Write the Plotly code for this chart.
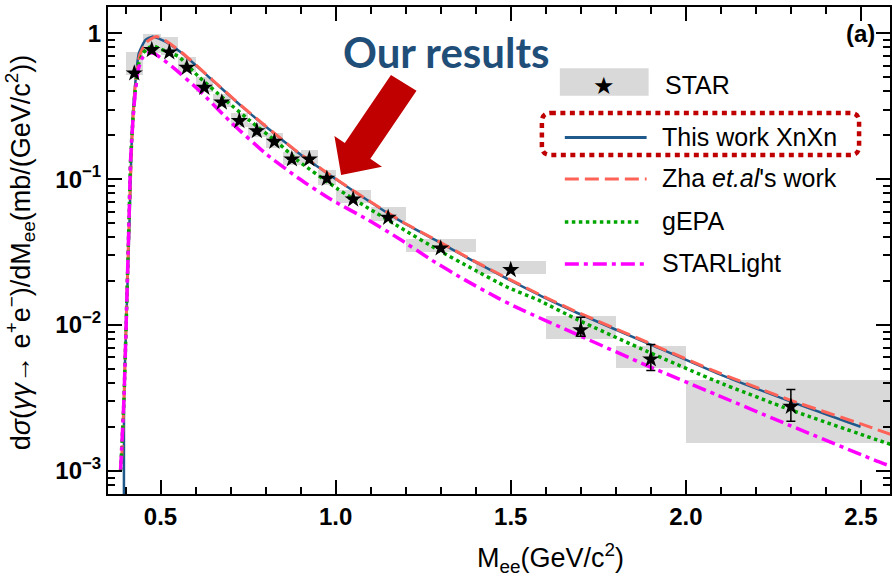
import numpy as np
import plotly.graph_objects as go

# ---------------- STAR data: dσ/dM_ee (mb/(GeV/c^2)) ----------------
star_mass = [0.425, 0.475, 0.525, 0.575, 0.625, 0.675, 0.725, 0.775, 0.825, 0.875,
             0.925, 0.975, 1.05, 1.15, 1.3, 1.5, 1.7, 1.9, 2.3]
star_xsec = [0.532, 0.769, 0.741, 0.581, 0.424, 0.336, 0.251, 0.214, 0.181, 0.137,
             0.137, 0.101, 0.0728, 0.0545, 0.0336, 0.0239, 0.00925, 0.00583, 0.00276]
# statistical error band (lower / upper value)
star_stat_lo = [0.532, 0.769, 0.741, 0.581, 0.424, 0.336, 0.251, 0.214, 0.181, 0.137,
                0.137, 0.101, 0.0728, 0.0545, 0.0336, 0.0239, 0.00839, 0.00489, 0.00219]
star_stat_hi = [0.532, 0.769, 0.741, 0.581, 0.424, 0.336, 0.251, 0.214, 0.181, 0.137,
                0.137, 0.101, 0.0728, 0.0545, 0.0336, 0.0239, 0.0113, 0.00735, 0.00361]
# systematic uncertainty boxes
star_sys_lo = [0.518, 0.729, 0.710, 0.546, 0.398, 0.311, 0.229, 0.195, 0.163, 0.125,
               0.128, 0.0913, 0.0684, 0.0519, 0.0318, 0.0224, 0.00807, 0.00506, 0.00155]
star_sys_hi = [0.748, 0.989, 0.944, 0.691, 0.504, 0.384, 0.283, 0.244, 0.206, 0.154,
               0.158, 0.116, 0.0843, 0.0642, 0.0386, 0.0275, 0.01154, 0.00719, 0.00420]
bin_lo = [0.40, 0.45, 0.50, 0.55, 0.60, 0.65, 0.70, 0.75, 0.80, 0.85,
          0.90, 0.95, 1.0, 1.1, 1.2, 1.4, 1.6, 1.8, 2.0]
bin_hi = [0.45, 0.50, 0.55, 0.60, 0.65, 0.70, 0.75, 0.80, 0.85, 0.90,
          0.95, 1.0, 1.1, 1.2, 1.4, 1.6, 1.8, 2.0, 2.7]

# ---------------- Theory curves ----------------
xnxn_m = [0.3954, 0.3956, 0.403, 0.4117, 0.419, 0.427, 0.438, 0.457, 0.476, 0.481,
          0.514, 0.5615, 0.647, 0.7325, 0.818, 0.894, 0.99, 1.0934, 1.188, 1.288,
          1.388, 1.4875, 1.587, 1.692, 1.891, 2.09, 2.2995, 2.499]
xnxn_y = [0.0002, 0.003, 0.012, 0.054, 0.229, 0.431, 0.729, 0.90, 0.948, 0.945,
          0.876, 0.729, 0.479, 0.314, 0.212, 0.151, 0.104, 0.0712, 0.0512, 0.0379,
          0.0279, 0.0209, 0.0158, 0.01205, 0.0075, 0.00467, 0.00299, 0.00201]

zha_m = [0.389, 0.3954, 0.41, 0.419, 0.427, 0.44, 0.46, 0.4875, 0.514, 0.5615,
         0.647, 0.7325, 0.818, 0.894, 0.99, 1.0934, 1.188, 1.288, 1.388, 1.4875,
         1.587, 1.692, 1.891, 2.09, 2.2995, 2.5, 2.6]
zha_y = [0.0012, 0.003, 0.05, 0.2, 0.42, 0.70, 0.87, 0.95, 0.89, 0.735,
         0.482, 0.316, 0.213, 0.152, 0.1045, 0.0715, 0.0515, 0.0381, 0.0281, 0.0211,
         0.0160, 0.0122, 0.0076, 0.00475, 0.00305, 0.0021, 0.00173]

gepa_m = [0.386, 0.3954, 0.41, 0.4145, 0.424, 0.436, 0.45, 0.465, 0.481, 0.495,
          0.552, 0.609, 0.685, 0.752, 0.837, 0.894, 1.008, 1.0934, 1.188, 1.2925,
          1.388, 1.4875, 1.578, 1.692, 1.891, 2.09, 2.2995, 2.547, 2.6]
gepa_y = [0.001, 0.003, 0.0525, 0.135, 0.32, 0.60, 0.73, 0.795, 0.818, 0.789,
          0.691, 0.504, 0.349, 0.255, 0.176, 0.133, 0.085, 0.0632, 0.0461, 0.0327,
          0.0245, 0.0183, 0.01486, 0.01084, 0.00657, 0.00409, 0.00262, 0.00163, 0.00148]

starlight_m = [0.386, 0.3954, 0.41, 0.4145, 0.424, 0.436, 0.4476, 0.462, 0.481, 0.533,
               0.609, 0.704, 0.799, 0.894, 0.989, 1.084, 1.179, 1.274, 1.369, 1.464,
               1.52, 1.692, 1.891, 2.09, 2.2995, 2.561, 2.6]
starlight_y = [0.00102, 0.00307, 0.0525, 0.1355, 0.314, 0.56, 0.674, 0.729, 0.729, 0.590,
               0.409, 0.2415, 0.1506, 0.1014, 0.0720, 0.0540, 0.0394, 0.0279, 0.0204, 0.0153,
               0.0131, 0.00855, 0.00525, 0.00331, 0.00204, 0.00113, 0.00105]

# ---------------- styles ----------------
BLUE = "#205a8c"
RED = "#ff6257"
GREEN = "#00a600"
MAGENTA = "#ff00ff"
DARKRED = "#c00000"
FONT = "Liberation Sans, Arial, sans-serif"

# plot-area geometry in pixels (used to place legend / decorations)
W, H = 892, 580
ML, MR, MT, MB = 108, 0, 7, 86
PW, PH = W - ML - MR, H - MT - MB


def px(x):
    return (x - ML) / PW


def py(y):
    return (H - MB - y) / PH


fig = go.Figure()

# systematic boxes
fig.add_trace(go.Bar(
    x=[(a + b) / 2 for a, b in zip(bin_lo, bin_hi)],
    width=[b - a for a, b in zip(bin_lo, bin_hi)],
    base=star_sys_lo,
    y=[h - l for l, h in zip(star_sys_lo, star_sys_hi)],
    marker=dict(color="#d9d9d9", line=dict(width=0)),
    showlegend=False, hoverinfo="skip",
))

curves = [
    (xnxn_m, xnxn_y, BLUE, 2.5, "solid"),
    (zha_m, zha_y, RED, 3, "14px,6px"),
    (gepa_m, gepa_y, GREEN, 3.5, "dot"),
    (starlight_m, starlight_y, MAGENTA, 3.5, "14px,5px,4px,5px"),
]
for m, y, c, w, d in curves:
    fig.add_trace(go.Scatter(
        x=m, y=y, mode="lines",
        line=dict(color=c, width=w, dash=d, shape="spline", smoothing=0.5),
        showlegend=False, hoverinfo="skip",
    ))

fig.add_trace(go.Scatter(
    x=star_mass, y=star_xsec, mode="markers",
    marker=dict(symbol="star", size=13, color="black", line=dict(width=0)),
    error_y=dict(type="data", symmetric=False,
                 array=[h - v for h, v in zip(star_stat_hi, star_xsec)],
                 arrayminus=[v - l for l, v in zip(star_stat_lo, star_xsec)],
                 color="black", thickness=1.5, width=4.5),
    showlegend=False, hoverinfo="skip",
))

axis_common = dict(
    showline=True, linecolor="black", linewidth=2, mirror="ticks",
    ticks="inside", ticklen=14, tickwidth=2, tickcolor="black",
    showgrid=False, zeroline=False,
    tickfont=dict(family=FONT, size=24, color="black", weight="bold"),
)

fig.update_layout(
    width=W, height=H, autosize=False,
    margin=dict(l=ML, r=MR, t=MT, b=MB),
    plot_bgcolor="white", paper_bgcolor="white",
    barmode="overlay", bargap=0,
    xaxis=dict(range=[0.35, 2.583], tick0=0.5, dtick=0.5, tickformat=".1f",
               minor=dict(ticks="inside", ticklen=7, tickwidth=1.5, tickcolor="black",
                          tick0=0.5, dtick=0.1),
               **axis_common),
    yaxis=dict(type="log", range=[-3.158, 0.180],
               tickvals=[0.001, 0.01, 0.1, 1],
               ticktext=["10<sup>−3</sup>", "10<sup>−2</sup>", "10<sup>−1</sup>", "1"],
               minor=dict(ticks="inside", ticklen=7, tickwidth=1.5, tickcolor="black",
                          dtick="D1"),
               **axis_common),
)

ann = []
shapes = []

# axis titles
ann.append(dict(xref="paper", yref="paper", x=px(20), y=py(252), textangle=-90,
                text="d<i>σ</i>(<i>γγ</i>→ e<sup>+</sup>e<sup>−</sup>)/dM<sub>ee</sub>(mb/(GeV/c<sup>2</sup>))",
                showarrow=False, xanchor="center", yanchor="middle",
                font=dict(family=FONT, size=27, color="black")))
ann.append(dict(xref="paper", yref="paper", x=px(552), y=py(558),
                text="M<sub>ee</sub>(GeV/c<sup>2</sup>)",
                showarrow=False, xanchor="center", yanchor="middle",
                font=dict(family=FONT, size=27, color="black")))

# panel label
ann.append(dict(xref="paper", yref="paper", x=px(862), y=py(34), text="(a)",
                showarrow=False, xanchor="center", yanchor="middle",
                font=dict(family=FONT, size=24, color="black", weight="bold")))

# highlight text and arrow
ann.append(dict(xref="paper", yref="paper", x=px(447), y=py(52), text="Our results",
                showarrow=False, xanchor="center", yanchor="middle",
                font=dict(family="Lato, Open Sans, sans-serif", size=42,
                          color="#1f4e79", weight="bold")))
arrow_pts = [(391.7, 75), (417.3, 90.7), (371, 158.7), (382.7, 166.7),
             (341.7, 175), (335, 136), (345.4, 143)]
path = "M " + " L ".join(f"{px(a):.5f},{py(b):.5f}" for a, b in arrow_pts) + " Z"
shapes.append(dict(type="path", xref="paper", yref="paper", path=path,
                   fillcolor=DARKRED, line=dict(width=0)))

# legend
shapes.append(dict(type="rect", xref="paper", yref="paper",
                   x0=px(561), x1=px(650), y0=py(95.7), y1=py(68.3),
                   fillcolor="#d9d9d9", line=dict(width=0)))
ann.append(dict(xref="paper", yref="paper", x=px(605), y=py(86), text="★",
                showarrow=False, xanchor="center", yanchor="middle",
                font=dict(family="DejaVu Sans", size=24, color="black")))
ann.append(dict(xref="paper", yref="paper", x=px(664), y=py(85), text="STAR",
                showarrow=False, xanchor="left", yanchor="middle",
                font=dict(family=FONT, size=25, color="black")))

legend_rows = [
    (137.5, BLUE, 3, "solid", 648, "This work XnXn"),
    (179.0, RED, 3, "14px,6px", 648, "Zha <i>et.al</i>'s work"),
    (222.0, GREEN, 3.5, "dot", 643, "gEPA"),
    (264.0, MAGENTA, 3.5, "14px,5px,4px,5px", 650, "STARLight"),
]
for yy, c, w, d, xend, label in legend_rows:
    shapes.append(dict(type="line", xref="paper", yref="paper",
                       x0=px(566), x1=px(xend), y0=py(yy), y1=py(yy),
                       line=dict(color=c, width=w, dash=d)))
    ann.append(dict(xref="paper", yref="paper", x=px(661), y=py(yy - 1), text=label,
                    showarrow=False, xanchor="left", yanchor="middle",
                    font=dict(family=FONT, size=25, color="black")))

# dotted rounded frame around "This work"
x0, x1, y0, y1 = 543, 861, 113, 155
r = 9
pts = (f"M {px(x0 + r)},{py(y0)} L {px(x1 - r)},{py(y0)} "
       f"Q {px(x1)},{py(y0)} {px(x1)},{py(y0 + r)} L {px(x1)},{py(y1 - r)} "
       f"Q {px(x1)},{py(y1)} {px(x1 - r)},{py(y1)} L {px(x0 + r)},{py(y1)} "
       f"Q {px(x0)},{py(y1)} {px(x0)},{py(y1 - r)} L {px(x0)},{py(y0 + r)} "
       f"Q {px(x0)},{py(y0)} {px(x0 + r)},{py(y0)} Z")
shapes.append(dict(type="path", xref="paper", yref="paper", path=pts,
                   line=dict(color=DARKRED, width=4.5, dash="5px,4.5px")))

fig.update_layout(annotations=ann, shapes=shapes)

fig.write_html("out.html")
